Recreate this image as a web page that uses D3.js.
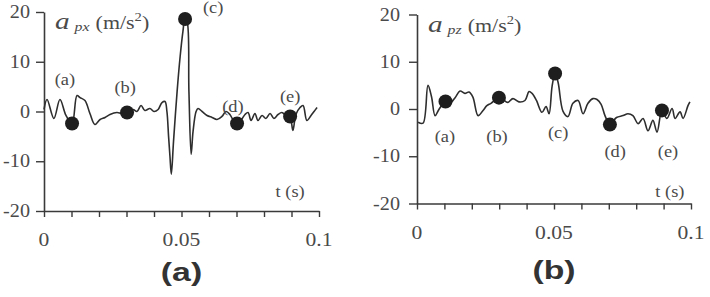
<!DOCTYPE html>
<html><head><meta charset="utf-8">
<script src="https://cdn.jsdelivr.net/npm/d3@7"></script>
<style>
html,body{margin:0;padding:0;background:#fff;}
svg{display:block;}
.serif{font-family:"Liberation Serif","Times New Roman",Times,serif;}
.sans{font-family:"Liberation Sans",Arial,Helvetica,sans-serif;}
</style></head>
<body>
<svg id="c" width="710" height="297"></svg>
<script>
// ---------- DATA ----------
const xTicks = [0,0.01,0.02,0.03,0.04,0.05,0.06,0.07,0.08,0.09,0.1];
const xTickLabels = {"0":"0","0.05":"0.05","0.1":"0.1"};
const yTicks = [-20,-10,0,10,20];
const yTickLabels = ["-20","-10","0","10","20"];
const pointNames = ["(a)","(b)","(c)","(d)","(e)"];

// panel (a): a_px
const pxT = [0,0.0011,0.0036,0.0058,0.0080,0.0102,0.0120,0.0131,0.0149,0.0167,0.0185,0.0204,0.0222,0.0240,0.0265,0.0284,0.0302,0.0324,0.0338,0.0353,0.0367,0.0385,0.0400,0.0415,0.0429,0.0440,0.0447,0.0453,0.0458,0.0463,0.0471,0.0484,0.0495,0.0505,0.0513,0.0520,0.0527,0.0535,0.0542,0.0553,0.0560,0.0575,0.0593,0.0611,0.0629,0.0647,0.0662,0.0676,0.0691,0.0702,0.0716,0.0731,0.0742,0.0753,0.0767,0.0778,0.0793,0.0807,0.0822,0.0836,0.0851,0.0865,0.0880,0.0895,0.0905,0.0916,0.0931,0.0942,0.0956,0.0971,0.0982,0.0993];
const pxV = [0.4,2.4,-1.4,2.4,-0.8,-2.4,3.2,2.8,2.2,-0.4,-2.6,-1.6,-1.2,-0.6,-0.2,-0.4,-0.1,0.4,0.0,1.2,0.2,0.6,0.0,0.4,1.8,2.0,0.0,-5.0,-9.0,-12.6,-6.0,4.0,11.0,16.0,18.6,18.2,4.0,-8.6,-4.0,0.0,0.6,0.0,-0.8,-1.2,-1.6,-1.0,0.0,-0.6,-2.0,-2.4,-1.8,-0.6,-0.2,-1.8,-0.4,-1.8,-0.8,-1.4,-0.4,-1.4,-0.6,-0.2,-0.8,-1.2,-3.8,-0.6,0.8,1.2,-1.8,-0.8,0.0,0.8];
const pxDotT = [0.0102,0.0302,0.0513,0.0702,0.0895];
const pxDotV = [-2.4,-0.2,18.6,-2.4,-1.0];
const pxLabT = [0.0076,0.0295,0.0615,0.0687,0.0895];
const pxLabV = [6.4,4.8,20.8,1.0,3.0];

// panel (b): a_pz
const pzT = [0.0004,0.0022,0.0040,0.0053,0.0066,0.0080,0.0104,0.0120,0.0139,0.0157,0.0175,0.0190,0.0204,0.0223,0.0241,0.0255,0.0270,0.0299,0.0318,0.0332,0.0350,0.0372,0.0394,0.0409,0.0420,0.0436,0.0456,0.0471,0.0482,0.0493,0.0504,0.0515,0.0533,0.0551,0.0569,0.0588,0.0606,0.0624,0.0642,0.0657,0.0672,0.0686,0.0704,0.0728,0.0752,0.0770,0.0788,0.0807,0.0825,0.0843,0.0861,0.0876,0.0894,0.0912,0.0931,0.0942,0.0960,0.0971,0.0989,0.0996];
const pzV = [-2.8,-3.0,5.0,2.6,-1.4,-0.1,1.6,1.2,2.4,3.8,3.3,3.6,2.5,-1.4,-0.3,0.7,1.2,2.4,1.8,1.4,2.2,1.5,1.8,3.7,3.3,1.8,-0.7,0.5,-1.0,4.8,7.5,5.6,-0.5,-1.6,1.2,1.8,-1.0,1.2,2.2,2.0,1.0,-1.4,-3.3,-1.8,-1.4,-1.0,-1.4,-3.1,-2.0,-4.6,-2.4,-4.9,-0.3,-2.0,0.1,-2.0,-0.6,-2.0,0.7,1.5];
const pzDotT = [0.0104,0.0299,0.0504,0.0704,0.0894];
const pzDotV = [1.6,2.4,7.5,-3.3,-0.3];
const pzLabT = [0.0102,0.0292,0.0515,0.0723,0.0916];
const pzLabV = [-6.0,-6.0,-5.0,-9.2,-9.2];

const panels = [
  {t:pxT, v:pxV, dt:pxDotT, dv:pxDotV, lt:pxLabT, lv:pxLabV, sub:"px", tsT:0.0895, tsV:-16.2, cap:"(a)",
   x0:44, x1:319, yTop:12, yBot:211, xlabY:246, capY:281, ylabX:30},
  {t:pzT, v:pzV, dt:pzDotT, dv:pzDotV, lt:pzLabT, lv:pzLabV, sub:"pz", tsT:0.0923, tsV:-17.6, cap:"(b)",
   x0:417, x1:691, yTop:14.5, yBot:203.5, xlabY:239, capY:279, ylabX:400}
];

const svg = d3.select("#c");
const ink = "#3a3a3a";
const txt = "#4a4a4a";

panels.forEach(p => {
  const x = d3.scaleLinear().domain([0,0.1]).range([p.x0,p.x1]);
  const y = d3.scaleLinear().domain([-20,20]).range([p.yBot,p.yTop]);
  const g = svg.append("g");

  // y axis
  const ya = g.append("g").attr("transform",`translate(${p.x0},0)`)
    .call(d3.axisLeft(y).tickValues(yTicks).tickSize(8).tickSizeOuter(0)
      .tickFormat((d,i)=>yTickLabels[i]));
  ya.select(".domain").attr("stroke",ink).attr("stroke-width",1.6);
  ya.selectAll(".tick line").attr("stroke",ink).attr("stroke-width",1.4);
  ya.selectAll(".tick text").remove();
  yTicks.forEach((d,i)=>{
    g.append("text").attr("class","serif").attr("transform",`translate(${p.ylabX},${y(d)+6}) scale(1.12,1)`)
      .attr("text-anchor","end").style("font-size","18px")
      .attr("fill",txt).text(yTickLabels[i]);
  });

  // x axis
  const xa = g.append("g").attr("transform",`translate(0,${p.yBot})`)
    .call(d3.axisBottom(x).tickValues(xTicks).tickSize(6).tickSizeOuter(0)
      .tickFormat(d=>""));
  xa.select(".domain").attr("stroke",ink).attr("stroke-width",1.6);
  xa.selectAll(".tick line").attr("stroke",ink).attr("stroke-width",1.4);
  Object.keys(xTickLabels).forEach(k=>{
    g.append("text").attr("class","serif").attr("transform",`translate(${x(+k)},${p.xlabY}) scale(1.2,1)`)
      .attr("text-anchor","middle").style("font-size","18px")
      .attr("fill",txt).text(xTickLabels[k]);
  });

  // signal
  const pts = p.t.map((t,i)=>[t,p.v[i]]);
  g.append("path").datum(pts)
    .attr("d", d3.line().x(d=>x(d[0])).y(d=>y(d[1])).curve(d3.curveCatmullRom.alpha(0.5)))
    .attr("fill","none").attr("stroke","#2e2e2e").attr("stroke-width",1.6)
    .attr("stroke-linejoin","round");

  // dots
  p.dt.forEach((t,i)=>{
    g.append("circle").attr("cx",x(t)).attr("cy",y(p.dv[i])).attr("r",7).attr("fill","#1e1e1e");
  });
  // point labels
  p.lt.forEach((t,i)=>{
    g.append("text").attr("class","serif").attr("transform",`translate(${x(t)},${y(p.lv[i])+5}) scale(1.15,1)`)
      .attr("text-anchor","middle").style("font-size","16px")
      .attr("fill",txt).text(pointNames[i]);
  });

  // t (s)
  g.append("text").attr("class","serif").attr("transform",`translate(${x(p.tsT)},${y(p.tsV)+5}) scale(1.15,1)`)
    .attr("text-anchor","middle").style("font-size","16px")
    .attr("fill",txt).text("t (s)");

  // y title
  const tt = g.append("text").attr("class","serif")
    .attr("transform",`translate(${p.x0+11},${p.yTop+17}) scale(1.22,1)`)
    .attr("fill",txt);
  tt.append("tspan").style("font-style","italic").style("font-size","24px").text("a");
  tt.append("tspan").style("font-style","italic").style("font-size","13px").attr("dx",4).attr("dy",2).text(p.sub);
  tt.append("tspan").style("font-size","18px").attr("dx",5).attr("dy",-2).text("(m/s");
  tt.append("tspan").style("font-size","12px").attr("dy",-8).text("2");
  tt.append("tspan").style("font-size","18px").attr("dy",8).text(")");

  // caption
  g.append("text").attr("class","sans").attr("transform",`translate(${(p.x0+p.x1)/2},${p.capY}) scale(1.3,1)`)
    .attr("text-anchor","middle").style("font-weight","bold").style("font-size","26px")
    .attr("fill","#333").text(p.cap);
});
</script>
</body></html>
